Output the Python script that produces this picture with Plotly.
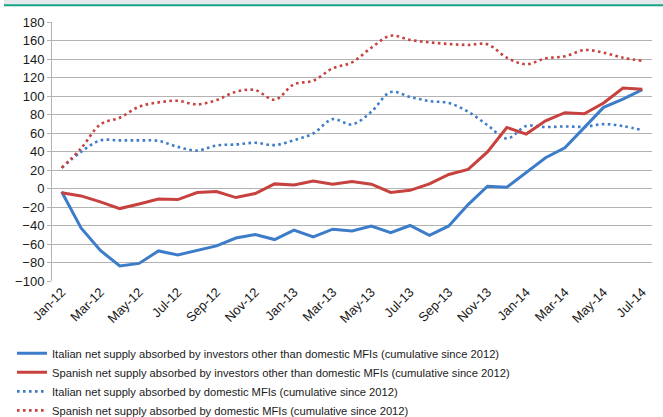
import plotly.graph_objects as go

# ==============================
# Data
# ==============================
MONTHS = [
    "Jan-12", "Feb-12", "Mar-12", "Apr-12", "May-12", "Jun-12", "Jul-12", "Aug-12",
    "Sep-12", "Oct-12", "Nov-12", "Dec-12", "Jan-13", "Feb-13", "Mar-13", "Apr-13",
    "May-13", "Jun-13", "Jul-13", "Aug-13", "Sep-13", "Oct-13", "Nov-13", "Dec-13",
    "Jan-14", "Feb-14", "Mar-14", "Apr-14", "May-14", "Jun-14", "Jul-14",
]

it_other = [-3.6, -42.6, -67, -83.8, -81, -67.5, -71.8, -67, -62, -53.5, -49.8,
            -55.2, -45, -52.4, -44, -45.9, -40.5, -47.7, -40, -50.6, -40.5, -17.4,
            2.5, 1.4, 16.9, 33.2, 44, 66, 87.7, 96.7, 106.8]
es_other = [-4.7, -8, -14.5, -21.7, -16.7, -11.3, -12, -4.3, -3.3, -9.8, -5.4,
            5, 3.9, 8.2, 4.7, 7.6, 4.7, -4.3, -2, 5, 15.2, 20.6, 39.6, 66, 58.8,
            73.2, 81.9, 80.8, 92.4, 108.6, 107.2]
it_dom = [22.3, 39.6, 52, 52, 52, 51.5, 45, 41, 46.5, 47.6, 49.4, 46.9, 52.3,
          59.5, 75, 69.3, 83, 104.3, 99, 94.5, 92.4, 83, 68.5, 54, 67.5, 66.4,
          67.1, 66.7, 69.6, 67.5, 63]
es_dom = [22.3, 43.3, 69.3, 76.5, 88.4, 93.1, 94.8, 90.9, 95.6, 104.6, 106.4,
          95.9, 112.6, 116.5, 129.9, 136.4, 152.2, 165.2, 160.6, 158, 156.2,
          155.2, 155.9, 141.4, 134.3, 140.7, 142.9, 149.7, 146.8, 141.4, 138]

NAMES = [
    "Italian net supply absorbed by investors other than domestic MFIs (cumulative since 2012)",
    "Spanish net supply absorbed by investors other than domestic MFIs (cumulative since 2012)",
    "Italian net supply absorbed by domestic MFIs (cumulative since 2012)",
    "Spanish net supply absorbed by domestic MFIs (cumulative since 2012)",
]

BLUE = "#3d7cc9"
RED = "#c7413f"
GRID = "#b3b3b3"
FONT = "Liberation Sans, Arial, sans-serif"

# ==============================
# Figure
# ==============================
fig = go.Figure()

fig.add_trace(go.Scatter(x=MONTHS, y=it_dom, name=NAMES[2], mode="lines",
                         line=dict(color=BLUE, width=2.6, dash="2.6px,3.4px", shape="spline")))
fig.add_trace(go.Scatter(x=MONTHS, y=es_dom, name=NAMES[3], mode="lines",
                         line=dict(color=RED, width=2.6, dash="2.6px,3.4px", shape="spline")))
fig.add_trace(go.Scatter(x=MONTHS, y=it_other, name=NAMES[0], mode="lines",
                         line=dict(color=BLUE, width=3)))
fig.add_trace(go.Scatter(x=MONTHS, y=es_other, name=NAMES[1], mode="lines",
                         line=dict(color=RED, width=3)))

# legend order like the original
for tr in fig.data:
    tr.legendrank = NAMES.index(tr.name)

# top band (grey strip + green rule)
fig.add_shape(type="rect", xref="paper", yref="paper", x0=-0.08, x1=1.02,
              y0=1.0683, y1=1.09, fillcolor="#e4e9ed", line_width=0, layer="above")
fig.add_shape(type="rect", xref="paper", yref="paper", x0=-0.08, x1=1.02,
              y0=1.0606, y1=1.0683, fillcolor="#17a184", line_width=0, layer="above")

n = len(MONTHS)
fig.update_layout(
    width=663, height=417,
    margin=dict(l=52, r=11, t=22, b=136, autoexpand=False),
    paper_bgcolor="white", plot_bgcolor="white",
    font=dict(family=FONT, size=13, color="#1a1a1a"),
    showlegend=True,
    legend=dict(x=-0.0667, y=-0.2233, xanchor="left", yanchor="top",
                orientation="v", font=dict(size=11.2),
                tracegroupgap=0, bgcolor="rgba(0,0,0,0)"),
    xaxis=dict(type="category", range=[-0.5, n - 0.5],
               tickvals=MONTHS[::2], ticktext=MONTHS[::2],
               tickangle=-45, showgrid=False, showline=False, ticks="",
               tickfont=dict(size=13), automargin=False),
    xaxis2=dict(overlaying="x", anchor="free", position=100 / 280,
                range=[-0.5, n - 0.5],
                tickvals=[i - 0.5 for i in range(0, n, 2)],
                showticklabels=False, showgrid=False, zeroline=False,
                showline=True, linecolor=GRID, linewidth=1,
                ticks="outside", ticklen=4, tickcolor=GRID),
    yaxis=dict(range=[-100, 180], dtick=20, showgrid=True, gridcolor=GRID,
               gridwidth=1.2, zeroline=False, showline=True, linecolor=GRID,
               ticks="outside", ticklen=4, tickcolor=GRID,
               tickfont=dict(size=13), automargin=False),
)

# page default body margin would shift the figure by 8px
fig.write_html("out.html", config={"displayModeBar": False},
               post_script="document.body.style.margin='0';")
